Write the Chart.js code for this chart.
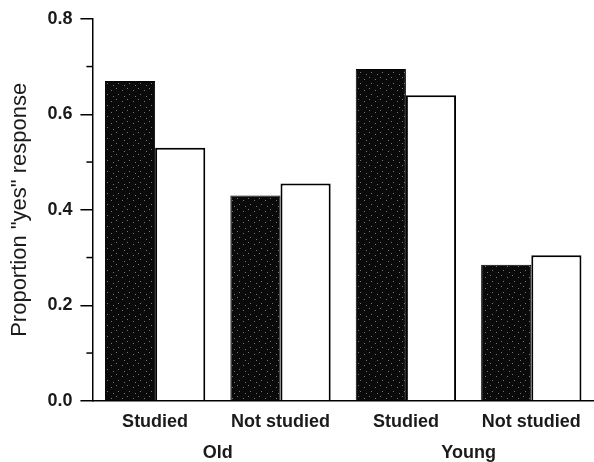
<!DOCTYPE html>
<html>
<head>
<meta charset="utf-8">
<script src="https://cdn.jsdelivr.net/npm/chart.js"></script>
<style>
  body { margin: 0; background: #fff; }
</style>
</head>
<body>
<canvas id="myBarChart" width="594" height="462"></canvas>
<script>
  var conditions = ['Studied', 'Not studied', 'Studied', 'Not studied'];
  var ageGroups = ['Old', 'Young'];
  var darkData = [0.67, 0.43, 0.695, 0.285];
  var whiteData = [0.53, 0.455, 0.64, 0.305];
  var yTicks = [0.0, 0.2, 0.4, 0.6, 0.8];
  var yMinorTicks = [0.1, 0.3, 0.5, 0.7];

  // stippled black fill like the printed figure
  var pat = document.createElement('canvas');
  pat.width = 11; pat.height = 11;
  var pctx = pat.getContext('2d');
  pctx.fillStyle = '#0a0a0a';
  pctx.fillRect(0, 0, 11, 11);
  pctx.fillStyle = '#777';
  pctx.fillRect(1, 2, 1, 1);
  pctx.fillRect(6, 0, 1, 1);
  pctx.fillRect(8, 6, 1, 1);
  pctx.fillRect(3, 8, 1, 1);

  var font = '"Liberation Sans", Arial, sans-serif';

  var minorTicks = {
      id: 'minorTicks',
      afterDraw: function(chart) {
          var y = chart.scales.y;
          var c = chart.ctx;
          c.save();
          c.strokeStyle = '#000';
          c.lineWidth = 1.5;
          yMinorTicks.forEach(function(v) {
              var py = y.getPixelForValue(v);
              c.beginPath();
              c.moveTo(y.right - 6, py);
              c.lineTo(y.right, py);
              c.stroke();
          });
          c.restore();
      }
  };

  var ctx = document.getElementById('myBarChart').getContext('2d');
  var myBarChart = new Chart(ctx, {
      type: 'bar',
      data: {
          labels: conditions,
          datasets: [
            {
                label: 'dark',
                backgroundColor: ctx.createPattern(pat, 'repeat'),
                borderColor: '#000',
                borderWidth: 1,
                data: darkData
            },
            {
                label: 'white',
                backgroundColor: '#fff',
                borderColor: '#000',
                borderWidth: 2,
                data: whiteData
            }
          ]
      },
      plugins: [minorTicks],
      options: {
          responsive: false,
          animation: false,
          layout: { padding: { top: 10, left: 7, right: 0, bottom: -2 } },
          plugins: { legend: { display: false }, tooltip: { enabled: false } },
          datasets: { bar: { categoryPercentage: 0.8, barPercentage: 1.0 } },
          scales: {
              x: {
                  grid: { display: false, drawTicks: false, tickLength: 0 },
                  border: { display: true, color: '#000', width: 1.5 },
                  ticks: { color: '#1a1a1a', padding: 10, font: { family: font, size: 18, weight: 'bold' } }
              },
              x2: {
                  type: 'category',
                  position: 'bottom',
                  labels: ageGroups,
                  offset: true,
                  grid: { display: false, drawTicks: false, tickLength: 0 },
                  border: { display: false },
                  ticks: { color: '#1a1a1a', padding: 0, font: { family: font, size: 18, weight: 'bold' } }
              },
              y: {
                  min: 0,
                  max: 0.8,
                  afterBuildTicks: function(axis) {
                      axis.ticks = yTicks.map(function(v) { return { value: v }; });
                  },
                  grid: { display: true, drawOnChartArea: false, drawTicks: true, tickLength: 12, color: '#000', lineWidth: 1.5 },
                  border: { display: true, color: '#000', width: 1.5 },
                  ticks: {
                      color: '#1a1a1a',
                      padding: 8,
                      font: { family: font, size: 18, weight: 'bold' },
                      callback: function(v) { return Number(v).toFixed(1); }
                  },
                  title: {
                      display: true,
                      text: 'Proportion "yes" response',
                      color: '#1a1a1a',
                      padding: { top: 0, bottom: 6 },
                      font: { family: font, size: 22 }
                  }
              }
          }
      }
  });
</script>
</body>
</html>
